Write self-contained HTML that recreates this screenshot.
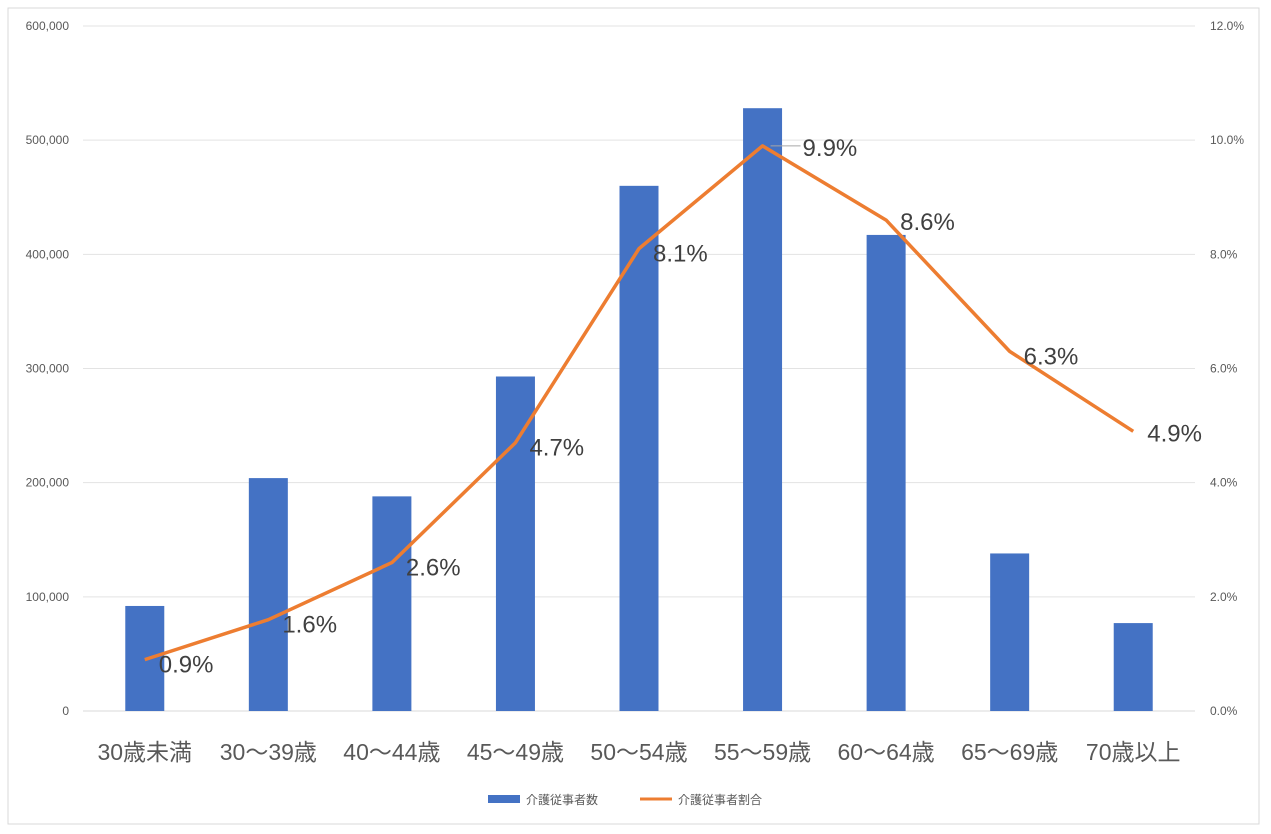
<!DOCTYPE html>
<html><head><meta charset="utf-8"><style>
body{margin:0;background:#fff;}
svg{display:block;font-family:"Liberation Sans","Noto Sans CJK JP",sans-serif;}
</style></head><body>
<svg id="chart" width="1271" height="834">
<rect x="8" y="8" width="1251" height="816" fill="#fff" stroke="#d9d9d9"/>
<g id="grid"></g><g id="bars"></g><g id="line"></g><g id="labels"></g>
<g>
<rect x="488" y="795" width="32" height="8" fill="#4472c4"/>
<text x="526" y="804" font-size="12" fill="#595959">介護従事者数</text>
<line x1="640" y1="799" x2="672" y2="799" stroke="#ed7d31" stroke-width="3"/>
<text x="678" y="804" font-size="12" fill="#595959">介護従事者割合</text>
</g>
</svg>
<script>
const categories=["30歳未満","30〜39歳","40〜44歳","45〜49歳","50〜54歳","55〜59歳","60〜64歳","65〜69歳","70歳以上"];
const counts=[92000,204000,188000,293000,460000,528000,417000,138000,77000];
const shares=[0.9,1.6,2.6,4.7,8.1,9.9,8.6,6.3,4.9];
const leftTicks=[0,100000,200000,300000,400000,500000,600000];
const rightTicks=[0,2,4,6,8,10,12];
const NS="http://www.w3.org/2000/svg";
const x0=83,x1=1195,yTop=26,yBot=711;
const band=(x1-x0)/categories.length;
const xc=i=>x0+band*(i+0.5);
const yL=v=>yBot-(v/600000)*(yBot-yTop);
const yR=v=>yBot-(v/12)*(yBot-yTop);
function mk(tag,attrs,parent,text){const e=document.createElementNS(NS,tag);for(const k in attrs)e.setAttribute(k,attrs[k]);if(text!==undefined)e.textContent=text;document.getElementById(parent).appendChild(e);return e;}
leftTicks.forEach((t,i)=>{
 const l=mk('line',{x1:x0,x2:x1,y1:yL(t),y2:yL(t),stroke:t===0?'#d9d9d9':'#e3e3e3'},'grid');
 
 
 const a=mk('text',{x:69,y:yL(t)+4,'font-size':12,fill:'#595959','text-anchor':'end'},'grid',t.toLocaleString('en-US'));
 
 
});
rightTicks.forEach(t=>{
 const a=mk('text',{x:1210,y:yR(t)+4,'font-size':12,fill:'#595959'},'grid',t.toFixed(1)+'%');
 
 
});
categories.forEach((c,i)=>{
 const a=mk('text',{x:xc(i),y:760,'font-size':23,fill:'#595959','text-anchor':'middle'},'grid',c);
 
 
});
const bw=39;
counts.forEach((v,i)=>{
 const r=mk('rect',{x:xc(i)-bw/2,y:yL(v),width:bw,height:yBot-yL(v),fill:'#4472c4'},'bars');
 
 
});
const pts=shares.map((v,i)=>xc(i)+','+yR(v)).join(' ');
const pl=mk('polyline',{points:pts,fill:'none',stroke:'#ed7d31','stroke-width':3.5,'stroke-linejoin':'round'},'line');


shares.forEach((v,i)=>{
 const x=xc(i),y=yR(v);
 if(i===5){const ld=mk('line',{x1:x+8,y1:y,x2:x+38,y2:y,stroke:'#a6a6a6'},'labels');}
 const t=mk('text',{x:i===5?x+40:x+14,y:y+(i===5?10:i===6?10:i===8?10:13),'font-size':24,fill:'#404040'},'labels',v.toFixed(1)+'%');
 
 
});
</script>
</body></html>
